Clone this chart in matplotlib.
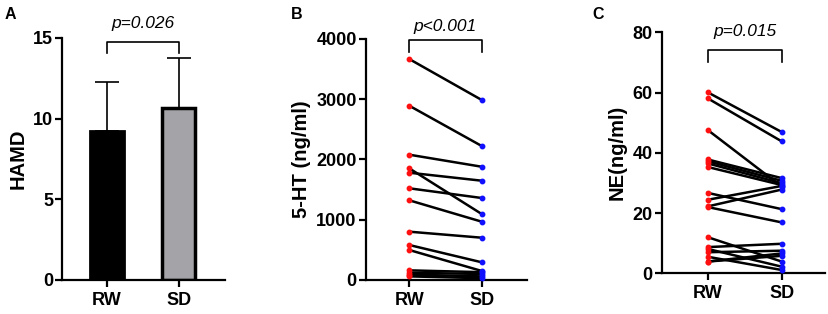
import matplotlib
matplotlib.use("Agg")
import matplotlib.pyplot as plt

plt.rcParams['font.family'] = ['Liberation Sans', 'DejaVu Sans']
plt.rcParams['font.weight'] = 'bold'
plt.rcParams['axes.labelweight'] = 'bold'

groups = ['RW', 'SD']

# panel A - HAMD bars
hamd_mean = [9.25, 10.64]
hamd_sd = [3.05, 3.10]

# panel B - 5-HT paired values
ht_rw = [3668, 2893, 2080, 1854, 1781, 1522, 1323, 802, 581, 498, 160, 120, 90, 60]
ht_sd = [2988, 2224, 1880, 1095, 1648, 1361, 968, 702, 294, 150, 130, 100, 60, 30]

# panel C - NE paired values
ne_rw = [60.1, 58.1, 47.6, 37.8, 37.2, 36.5, 35.3, 26.7, 24.4, 22.2, 22.0,
         12.0, 8.7, 8.1, 7.0, 5.5, 3.9, 3.9]
ne_sd = [46.9, 43.8, 28.8, 31.6, 30.7, 29.9, 29.3, 21.3, 29.0, 27.8, 16.9,
         3.9, 9.8, 2.2, 7.5, 1.1, 6.6, 5.8]

p_texts = ['p=0.026', 'p<0.001', 'p=0.015']

fig = plt.figure(figsize=(8.29, 3.14), dpi=100)
axA = fig.add_axes([0.0748, 0.1083, 0.1966, 0.7707])
axB = fig.add_axes([0.4411, 0.1083, 0.1942, 0.7675])
axC = fig.add_axes([0.7982, 0.1296, 0.197, 0.7675])


def style(ax):
    for s in ['top', 'right']:
        ax.spines[s].set_visible(False)
    for s in ['left', 'bottom']:
        ax.spines[s].set_linewidth(1.6)
    ax.tick_params(width=1.6, length=5, labelsize=13)
    ax.tick_params(axis='y', pad=1.5)
    ax.tick_params(axis='x', pad=3.5)
    ax.set_xticks([0, 1])
    ax.set_xticklabels(groups)


def bracket(ax, top, bottom, ty, text):
    ax.plot([0, 0, 1, 1], [bottom, top, top, bottom], color='black', lw=1.2, clip_on=False)
    ax.text(0.5, ty, text, ha='center', va='center', style='italic', fontweight='normal',
            fontsize=12.5, clip_on=False)


# A
axA.bar([0], [hamd_mean[0]], width=0.48, color='black', edgecolor='black', lw=2)
axA.bar([1], [hamd_mean[1]], width=0.46, color='#a4a4a8', edgecolor='black', lw=2.5)
axA.errorbar([0, 1], hamd_mean, yerr=[[0, 0], hamd_sd], fmt='none', ecolor='black',
             elinewidth=1.2, capsize=8.5, capthick=1.2, clip_on=False)
axA.set_xlim(-0.625, 1.64)
axA.set_ylim(0, 15)
axA.set_yticks([0, 5, 10, 15])
style(axA)
axA.set_ylabel('HAMD', fontsize=14.5, labelpad=4)
bracket(axA, 14.77, 14.07, 15.9, p_texts[0])

# B
for a, b in zip(ht_rw, ht_sd):
    axB.plot([0, 1], [a, b], color='black', lw=1.8, clip_on=False, zorder=2)
axB.plot([0] * len(ht_rw), ht_rw, 'o', color='#ff1010', ms=3.2, clip_on=False, zorder=3)
axB.plot([1] * len(ht_sd), ht_sd, 'o', color='#1010ff', ms=3.2, clip_on=False, zorder=3)
axB.set_xlim(-0.60, 1.62)
axB.set_ylim(0, 4000)
axB.set_yticks([0, 1000, 2000, 3000, 4000])
style(axB)
axB.set_ylabel('5-HT (ng/ml)', fontsize=14.5, labelpad=4)
bracket(axB, 3983, 3789, 4210, p_texts[1])

# C
for a, b in zip(ne_rw, ne_sd):
    axC.plot([0, 1], [a, b], color='black', lw=1.8, clip_on=False, zorder=2)
axC.plot([0] * len(ne_rw), ne_rw, 'o', color='#ff1010', ms=3.2, clip_on=False, zorder=3)
axC.plot([1] * len(ne_sd), ne_sd, 'o', color='#1010ff', ms=3.2, clip_on=False, zorder=3)
axC.set_xlim(-0.62, 1.585)
axC.set_ylim(0, 80)
axC.set_yticks([0, 20, 40, 60, 80])
style(axC)
axC.set_ylabel('NE(ng/ml)', fontsize=14.5, labelpad=4)
bracket(axC, 74.1, 70.3, 80.2, p_texts[2])

fig.text(0.006, 0.955, 'A', fontsize=11.5, va='center')
fig.text(0.351, 0.955, 'B', fontsize=11.5, va='center')
fig.text(0.715, 0.955, 'C', fontsize=11.5, va='center')

fig.savefig('out.png', dpi=100)
